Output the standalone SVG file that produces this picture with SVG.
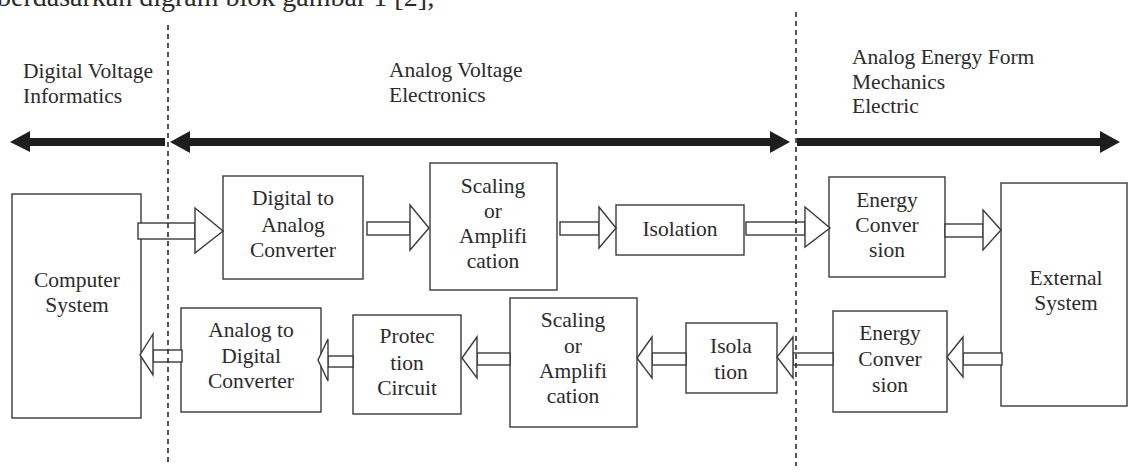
<svg xmlns="http://www.w3.org/2000/svg" width="1130" height="472" viewBox="0 0 1130 472">
  <style>
    text { font-family: "Liberation Serif", "Times New Roman", serif; fill: #2b2b2b; }
    .lbl { font-size: 21.5px; }
    .mid { text-anchor: middle; }
    .box { fill: #ffffff; stroke: #3a3a3a; stroke-width: 1.4; }
    .conn rect, .conn polygon { fill: #ffffff; stroke: #3a3a3a; stroke-width: 1.4; stroke-linejoin: miter; }
    .domain { fill: #1e1e1e; }
    .divider { stroke: #2b2b2b; stroke-width: 1.6; stroke-dasharray: 5 4; fill: none; }
  </style>
  <rect width="1130" height="472" fill="#ffffff"/>

  <!-- running text above the figure -->
  <text x="-3" y="6" style="font-size:28px">berdasarkan digram blok gambar 1 [2];</text>

  <!-- domain headings -->
  <g id="domain-labels" class="lbl">
    <text x="23" y="78">Digital Voltage</text>
    <text x="23" y="103">Informatics</text>
    <text x="389" y="77">Analog Voltage</text>
    <text x="389" y="102">Electronics</text>
    <text x="852" y="64">Analog Energy Form</text>
    <text x="852" y="89">Mechanics</text>
    <text x="852" y="113">Electric</text>
  </g>

  <!-- domain span arrows -->
  <g id="domain-arrows" class="domain">
    <polygon points="10,142 30,131 30,138 165,138 165,146 30,146 30,152"/>
    <polygon points="170,142 190,131 190,138 770,138 770,131 790,142 770,153 770,146 190,146 190,153"/>
    <polygon points="797,138 1100,138 1100,131 1120,142 1100,153 1100,146 797,146"/>
  </g>

  <!-- nodes -->
  <g id="computer-system">
    <rect class="box" x="12" y="194" width="129" height="224"/>
    <text class="lbl mid" x="77" y="287">Computer</text>
    <text class="lbl mid" x="77" y="312">System</text>
  </g>
  <g id="dac">
    <rect class="box" x="223" y="176" width="140" height="103"/>
    <text class="lbl mid" x="293" y="205">Digital to</text>
    <text class="lbl mid" x="293" y="232">Analog</text>
    <text class="lbl mid" x="293" y="257">Converter</text>
  </g>
  <g id="scaling-out">
    <rect class="box" x="430" y="163" width="127" height="127"/>
    <text class="lbl mid" x="493" y="193">Scaling</text>
    <text class="lbl mid" x="493" y="218">or</text>
    <text class="lbl mid" x="493" y="243">Amplifi</text>
    <text class="lbl mid" x="493" y="268">cation</text>
  </g>
  <g id="isolation-out">
    <rect class="box" x="616" y="205" width="128" height="50"/>
    <text class="lbl mid" x="680" y="236">Isolation</text>
  </g>
  <g id="energy-out">
    <rect class="box" x="829" y="177" width="116" height="100"/>
    <text class="lbl mid" x="887" y="207">Energy</text>
    <text class="lbl mid" x="887" y="232">Conver</text>
    <text class="lbl mid" x="887" y="257">sion</text>
  </g>
  <g id="external-system">
    <rect class="box" x="1001" y="183" width="126" height="223"/>
    <text class="lbl mid" x="1066" y="285">External</text>
    <text class="lbl mid" x="1066" y="310">System</text>
  </g>
  <g id="energy-in">
    <rect class="box" x="833" y="311" width="114" height="101"/>
    <text class="lbl mid" x="890" y="340">Energy</text>
    <text class="lbl mid" x="890" y="366">Conver</text>
    <text class="lbl mid" x="890" y="392">sion</text>
  </g>
  <g id="isolation-in">
    <rect class="box" x="686" y="323" width="91" height="70"/>
    <text class="lbl mid" x="731" y="353">Isola</text>
    <text class="lbl mid" x="731" y="379">tion</text>
  </g>
  <g id="scaling-in">
    <rect class="box" x="510" y="298" width="127" height="129"/>
    <text class="lbl mid" x="573" y="327">Scaling</text>
    <text class="lbl mid" x="573" y="353">or</text>
    <text class="lbl mid" x="573" y="378">Amplifi</text>
    <text class="lbl mid" x="573" y="403">cation</text>
  </g>
  <g id="protection">
    <rect class="box" x="353" y="315" width="108" height="99"/>
    <text class="lbl mid" x="407" y="343">Protec</text>
    <text class="lbl mid" x="407" y="370">tion</text>
    <text class="lbl mid" x="407" y="395">Circuit</text>
  </g>
  <g id="adc">
    <rect class="box" x="181" y="308" width="140" height="104"/>
    <text class="lbl mid" x="251" y="337">Analog to</text>
    <text class="lbl mid" x="251" y="363">Digital</text>
    <text class="lbl mid" x="251" y="388">Converter</text>
  </g>

  <!-- hollow block-arrow connectors -->
  <g id="connectors" class="conn">
    <!-- output path -->
    <rect x="138" y="223" width="57" height="16"/>
    <polygon points="195,208 223,231 195,253"/>
    <rect x="367" y="222" width="43" height="13"/>
    <polygon points="410,205 429,228 410,250"/>
    <rect x="560" y="222" width="39" height="13"/>
    <polygon points="599,207 616,228 599,248"/>
    <rect x="746" y="222" width="59" height="13"/>
    <polygon points="805,207 830,228 805,247"/>
    <rect x="945" y="224" width="38" height="13"/>
    <polygon points="983,210 1001,230 983,250"/>
    <!-- input path -->
    <rect x="963" y="353" width="39" height="12"/>
    <polygon points="963,337 947,357 963,377"/>
    <rect x="793" y="353" width="40" height="12"/>
    <polygon points="793,337 777,357 793,378"/>
    <rect x="652" y="353" width="34" height="12"/>
    <polygon points="652,337 637,358 652,378"/>
    <rect x="477" y="353" width="33" height="12"/>
    <polygon points="477,337 462,358 477,378"/>
    <rect x="328" y="356" width="25" height="11"/>
    <polygon points="328,339 318,360 328,381"/>
    <rect x="153" y="350" width="29" height="12"/>
    <polygon points="153,334 140,355 153,375"/>
  </g>

  <!-- domain boundaries -->
  <g id="boundaries">
    <line class="divider" x1="168" y1="25" x2="168" y2="466"/>
    <line class="divider" x1="796" y1="12" x2="796" y2="466"/>
  </g>
</svg>
